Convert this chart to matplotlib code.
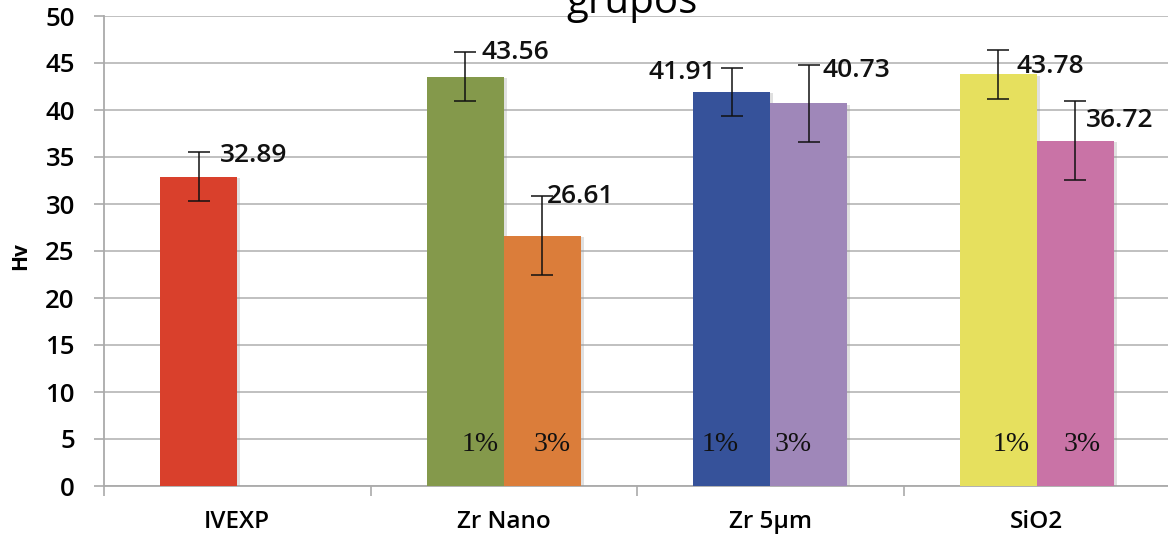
import numpy as np
import matplotlib
matplotlib.use("Agg")
import matplotlib.pyplot as plt
import matplotlib.patheffects as pe

# Vickers hardness per group, two filler concentrations
groups = ["IVEXP", "Zr Nano", "Zr 5µm", "SiO2"]
hv_1pct = [32.89, 43.56, 41.91, 43.78]
hv_3pct = [np.nan, 26.61, 40.73, 36.72]
sd_1pct = [2.6, 2.6, 2.55, 2.6]
sd_3pct = [np.nan, 4.2, 4.1, 4.2]
conc_labels = ["1%", "3%"]
yticks = list(range(0, 51, 5))

colors_1 = ["#D9402C", "#84994B", "#36529A", "#E6E05E"]
colors_3 = ["#D9402C", "#DB7D3A", "#9F87B9", "#C973A6"]

# label placement (points) relative to the top of each error bar
off_1 = [(15, -2), (12, 0), (-11, -3.5), (13, -12)]
ha_1 = ["left", "left", "right", "left"]
off_3 = [(10, -1), (3, 0), (10, -4), (8, -14)]
# horizontal nudges (points) for the concentration tags
tag_dx_1 = [0, 11, -8, 9]
tag_dx_3 = [0, 7, -11.5, 5]

plt.rcParams["font.family"] = ["Open Sans", "DejaVu Sans"]

W, H = 1168, 538
fig = plt.figure(figsize=(W / 100, H / 100), dpi=100)
ax = fig.add_axes([104 / W, (H - 486) / H, 1066 / W, 470 / H])

x = np.arange(len(groups)) + 0.5
w = 0.289
shadow = [pe.SimplePatchShadow(offset=(2, -1), shadow_rgbFace="#999999", alpha=0.3), pe.Normal()]

b1 = ax.bar(x - w, hv_1pct, w, align="edge", color=colors_1, zorder=3)
b3 = ax.bar(x, hv_3pct, w, align="edge", color=colors_3, zorder=3)
for b in list(b1) + list(b3):
    b.set_path_effects(shadow)

ax.errorbar(x - w / 2, hv_1pct, yerr=sd_1pct, fmt="none", ecolor="#111111",
            elinewidth=1.1, capsize=8, capthick=1.1, zorder=4)
ax.errorbar(x + w / 2, hv_3pct, yerr=sd_3pct, fmt="none", ecolor="#111111",
            elinewidth=1.1, capsize=8, capthick=1.1, zorder=4)

for i in range(len(groups)):
    ax.annotate(f"{hv_1pct[i]:.2f}", (x[i] - w / 2, hv_1pct[i] + sd_1pct[i]),
                xytext=off_1[i], textcoords="offset points", ha=ha_1[i], va="center",
                fontsize=19, fontweight="semibold", color="#111111", zorder=5)
    if not np.isnan(hv_3pct[i]):
        ax.annotate(f"{hv_3pct[i]:.2f}", (x[i] + w / 2, hv_3pct[i] + sd_3pct[i]),
                    xytext=off_3[i], textcoords="offset points", ha="left", va="center",
                    fontsize=19, fontweight="semibold", color="#111111", zorder=5)
        # concentration tags inside the paired bars
        ax.annotate(conc_labels[0], (x[i] - w / 2, 4.4), xytext=(tag_dx_1[i], 0),
                    textcoords="offset points", ha="center", va="center",
                    family="Liberation Serif", fontsize=20, color="#111111", zorder=5)
        ax.annotate(conc_labels[1], (x[i] + w / 2, 4.4), xytext=(tag_dx_3[i], 0),
                    textcoords="offset points", ha="center", va="center",
                    family="Liberation Serif", fontsize=20, color="#111111", zorder=5)

ax.set_xlim(0, len(groups))
ax.set_ylim(0, 50)
ax.set_yticks(yticks)
ax.set_yticklabels([str(t) for t in yticks], fontsize=18.5, fontweight="semibold")
ax.set_xticks(x)
ax.set_xticklabels(groups, fontsize=17.5, fontweight="semibold")
ax.set_xticks(np.arange(len(groups) + 1), minor=True)
ax.tick_params(axis="x", which="major", length=0, pad=17)
ax.tick_params(axis="x", which="minor", length=7, color="#AAAAAA", width=1.2)
ax.tick_params(axis="y", length=7, color="#AAAAAA", width=1.2, pad=14)

ax.grid(axis="y", color="#B5B5B5", linewidth=1.2, zorder=0)
ax.set_axisbelow(True)
for s in ["top", "right"]:
    ax.spines[s].set_visible(False)
for s in ["left", "bottom"]:
    ax.spines[s].set_color("#AAAAAA")
    ax.spines[s].set_linewidth(1.3)

fig.text(21 / W, 1 - 256 / H, "Hv", rotation=90, ha="center", va="center",
         fontsize=15, fontweight="bold")
fig.text(632 / W, 1 - 13 / H, "grupos", ha="center", va="baseline", fontsize=29)

fig.savefig("out.png", dpi=100)
